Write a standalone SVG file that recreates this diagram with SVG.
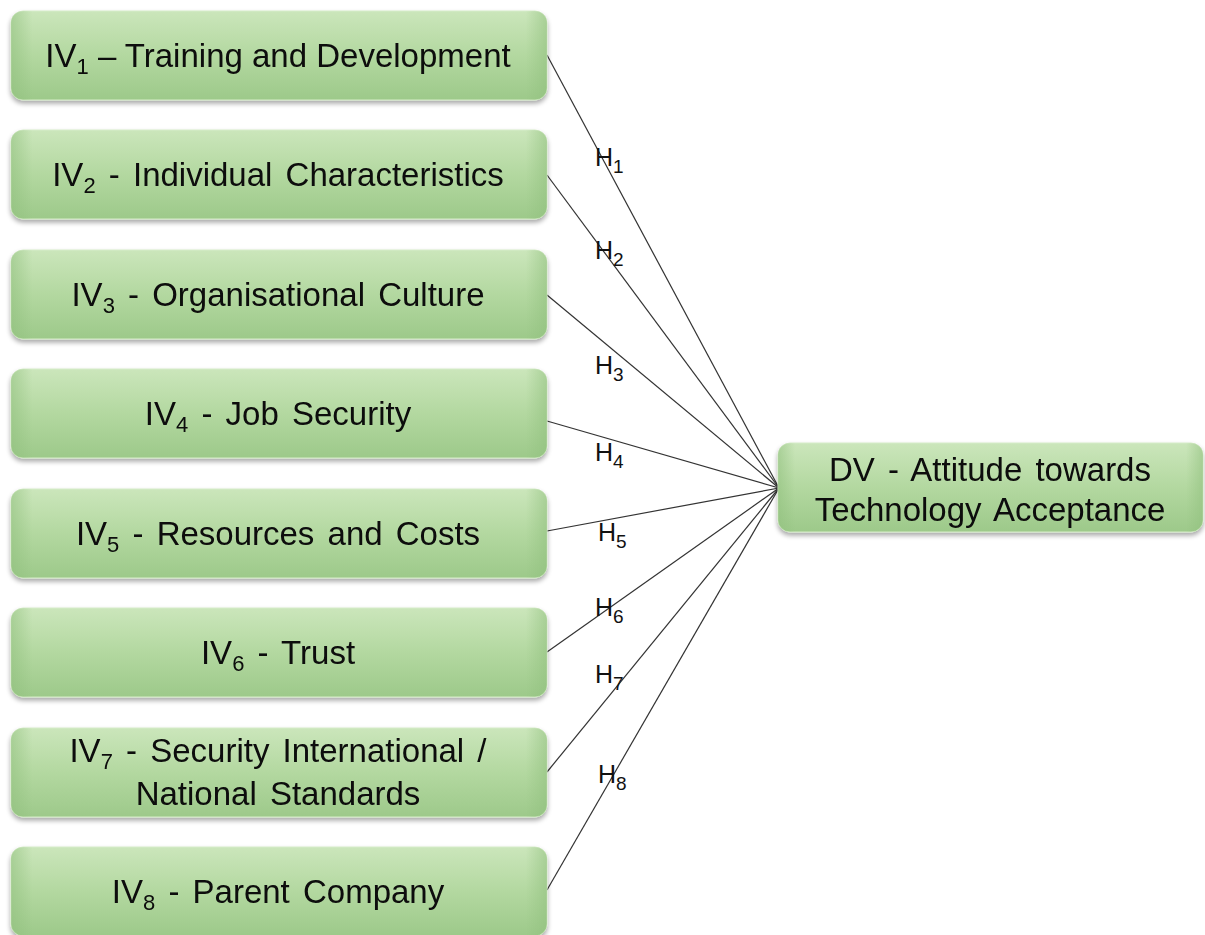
<svg xmlns="http://www.w3.org/2000/svg" width="1205" height="935" viewBox="0 0 1205 935">
  <defs>
    <linearGradient id="boxFill" x1="0" y1="0" x2="0" y2="1">
      <stop offset="0" stop-color="#cbe6bb"/>
      <stop offset="0.5" stop-color="#b3d8a0"/>
      <stop offset="1" stop-color="#9dc98a"/>
    </linearGradient>
    <linearGradient id="sideShade" x1="0" y1="0" x2="1" y2="0">
      <stop offset="0" stop-color="#8fbf7c" stop-opacity="0.55"/>
      <stop offset="0.04" stop-color="#8fbf7c" stop-opacity="0"/>
      <stop offset="0.96" stop-color="#8fbf7c" stop-opacity="0"/>
      <stop offset="1" stop-color="#8fbf7c" stop-opacity="0.55"/>
    </linearGradient>
    <filter id="shadow" x="-5%" y="-10%" width="110%" height="130%">
      <feGaussianBlur in="SourceAlpha" stdDeviation="2.5"/>
      <feOffset dx="0" dy="3" result="b"/>
      <feComponentTransfer><feFuncA type="linear" slope="0.35"/></feComponentTransfer>
      <feMerge><feMergeNode/><feMergeNode in="SourceGraphic"/></feMerge>
    </filter>
  </defs>
  <style>
    .box { fill: url(#boxFill); stroke: #d6ecc9; stroke-width: 1; }
    .shade { fill: url(#sideShade); stroke: none; }
    .lbl { font-family: "Liberation Sans", Arial, sans-serif; font-size: 33px; fill: #0a0a0a; text-anchor: middle; }
    .sub { font-size: 22px; }
    .h { font-family: "Liberation Sans", Arial, sans-serif; font-size: 25px; fill: #111; }
    .hs { font-size: 19px; }
    .link { stroke: #333; stroke-width: 1.2; fill: none; }
  </style>

  <rect width="1205" height="935" fill="#ffffff"/>

  <!-- hypothesis links, each IV to the DV -->
  <g id="connectors">
    <line class="link" x1="547" y1="55" x2="779" y2="488"/>
    <line class="link" x1="547" y1="175" x2="779" y2="488"/>
    <line class="link" x1="547" y1="295" x2="779" y2="488"/>
    <line class="link" x1="547" y1="421" x2="779" y2="488"/>
    <line class="link" x1="547" y1="531" x2="779" y2="488"/>
    <line class="link" x1="547" y1="652" x2="779" y2="488"/>
    <line class="link" x1="547" y1="772" x2="779" y2="488"/>
    <line class="link" x1="547" y1="890" x2="779" y2="488"/>
  </g>

  <g id="hypothesis-labels">
    <text class="h" x="595" y="166">H<tspan class="hs" dy="7">1</tspan></text>
    <text class="h" x="595" y="259">H<tspan class="hs" dy="7">2</tspan></text>
    <text class="h" x="595" y="374">H<tspan class="hs" dy="7">3</tspan></text>
    <text class="h" x="595" y="461">H<tspan class="hs" dy="7">4</tspan></text>
    <text class="h" x="598" y="541">H<tspan class="hs" dy="7">5</tspan></text>
    <text class="h" x="595" y="616">H<tspan class="hs" dy="7">6</tspan></text>
    <text class="h" x="595" y="683">H<tspan class="hs" dy="7">7</tspan></text>
    <text class="h" x="598" y="783">H<tspan class="hs" dy="7">8</tspan></text>
  </g>

  <g id="iv1" filter="url(#shadow)">
    <rect class="box" x="11" y="11" width="536" height="89" rx="12"/>
    <rect class="shade" x="11" y="11" width="536" height="89" rx="12"/>
    <text class="lbl" x="278" y="67">IV<tspan class="sub" dy="7">1</tspan><tspan dy="-7"> – Training and Development</tspan></text>
  </g>
  <g id="iv2" filter="url(#shadow)">
    <rect class="box" x="11" y="130" width="536" height="89" rx="12"/>
    <rect class="shade" x="11" y="130" width="536" height="89" rx="12"/>
    <text class="lbl" x="278" y="186" word-spacing="4">IV<tspan class="sub" dy="7">2</tspan><tspan dy="-7"> - Individual Characteristics</tspan></text>
  </g>
  <g id="iv3" filter="url(#shadow)">
    <rect class="box" x="11" y="250" width="536" height="89" rx="12"/>
    <rect class="shade" x="11" y="250" width="536" height="89" rx="12"/>
    <text class="lbl" x="278" y="306" word-spacing="4">IV<tspan class="sub" dy="7">3</tspan><tspan dy="-7"> - Organisational Culture</tspan></text>
  </g>
  <g id="iv4" filter="url(#shadow)">
    <rect class="box" x="11" y="369" width="536" height="89" rx="12"/>
    <rect class="shade" x="11" y="369" width="536" height="89" rx="12"/>
    <text class="lbl" x="278" y="425" word-spacing="4">IV<tspan class="sub" dy="7">4</tspan><tspan dy="-7"> - Job Security</tspan></text>
  </g>
  <g id="iv5" filter="url(#shadow)">
    <rect class="box" x="11" y="489" width="536" height="89" rx="12"/>
    <rect class="shade" x="11" y="489" width="536" height="89" rx="12"/>
    <text class="lbl" x="278" y="545" word-spacing="4">IV<tspan class="sub" dy="7">5</tspan><tspan dy="-7"> - Resources and Costs</tspan></text>
  </g>
  <g id="iv6" filter="url(#shadow)">
    <rect class="box" x="11" y="608" width="536" height="89" rx="12"/>
    <rect class="shade" x="11" y="608" width="536" height="89" rx="12"/>
    <text class="lbl" x="278" y="664" word-spacing="4">IV<tspan class="sub" dy="7">6</tspan><tspan dy="-7"> - Trust</tspan></text>
  </g>
  <g id="iv7" filter="url(#shadow)">
    <rect class="box" x="11" y="728" width="536" height="89" rx="12"/>
    <rect class="shade" x="11" y="728" width="536" height="89" rx="12"/>
    <text class="lbl" x="278" y="762" word-spacing="4">IV<tspan class="sub" dy="7">7</tspan><tspan dy="-7"> -  Security International /</tspan></text>
    <text class="lbl" x="278" y="805" word-spacing="4">National Standards</text>
  </g>
  <g id="iv8" filter="url(#shadow)">
    <rect class="box" x="11" y="847" width="536" height="89" rx="12"/>
    <rect class="shade" x="11" y="847" width="536" height="89" rx="12"/>
    <text class="lbl" x="278" y="903" word-spacing="4">IV<tspan class="sub" dy="7">8</tspan><tspan dy="-7"> - Parent Company</tspan></text>
  </g>

  <g id="dv" filter="url(#shadow)">
    <rect class="box" x="778" y="443" width="425" height="89" rx="12"/>
    <rect class="shade" x="778" y="443" width="425" height="89" rx="12"/>
    <text class="lbl" x="990" y="481" word-spacing="4">DV - Attitude towards</text>
    <text class="lbl" x="990" y="521" word-spacing="4">Technology Acceptance</text>
  </g>
</svg>
